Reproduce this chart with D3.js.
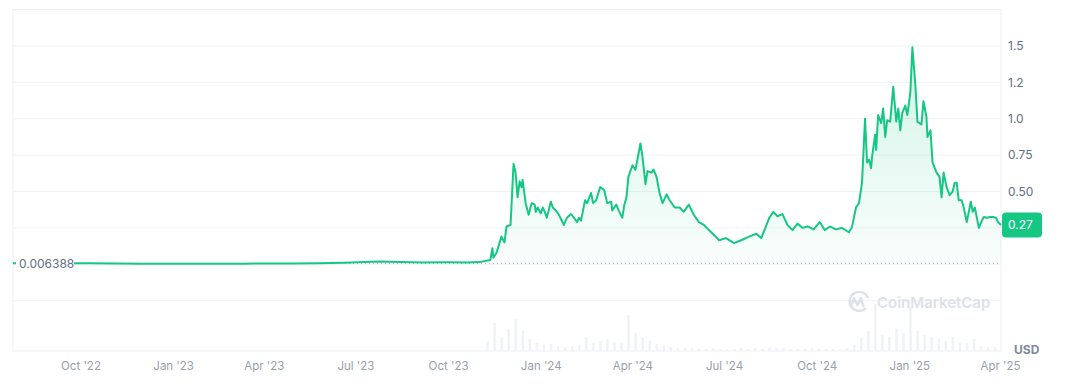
<!DOCTYPE html>
<html>
<head>
<meta charset="utf-8">
<script src="https://cdn.jsdelivr.net/npm/d3@7"></script>
<style>
  html, body { margin: 0; padding: 0; background: #fff; }
  svg { display: block; font-family: Inter, "Noto Sans", sans-serif; }
</style>
</head>
<body>
<svg id="chart" width="1066" height="387"></svg>
<script>
// price points (date, USD)
const prices2022_23 = [
  ['2022-07-26', 0.0064], ['2022-08-20', 0.0066], ['2022-09-15', 0.0068], ['2022-10-10', 0.0065],
  ['2022-11-05', 0.0058], ['2022-12-01', 0.0045], ['2022-12-25', 0.0035], ['2023-01-20', 0.003],
  ['2023-02-15', 0.0038], ['2023-03-12', 0.0045], ['2023-04-05', 0.0055], ['2023-05-01', 0.0062],
  ['2023-05-25', 0.0078], ['2023-06-20', 0.011], ['2023-07-10', 0.015], ['2023-07-25', 0.019],
  ['2023-08-15', 0.016], ['2023-09-05', 0.013], ['2023-09-30', 0.014], ['2023-10-20', 0.012],
  ['2023-11-01', 0.015], ['2023-11-12', 0.03], ['2023-11-14', 0.11], ['2023-11-15', 0.045],
  ['2023-11-18', 0.078], ['2023-11-23', 0.19], ['2023-11-26', 0.15], ['2023-11-28', 0.26],
  ['2023-12-02', 0.27], ['2023-12-05', 0.69], ['2023-12-07', 0.63], ['2023-12-09', 0.46],
  ['2023-12-11', 0.57], ['2023-12-13', 0.53], ['2023-12-14', 0.58], ['2023-12-17', 0.42],
  ['2023-12-20', 0.34], ['2023-12-23', 0.42], ['2023-12-26', 0.41], ['2023-12-27', 0.36],
  ['2023-12-29', 0.39]
];

const prices2024 = [
  ['2024-01-01', 0.35], ['2024-01-03', 0.39], ['2024-01-05', 0.36], ['2024-01-07', 0.32],
  ['2024-01-11', 0.43], ['2024-01-13', 0.39], ['2024-01-16', 0.37], ['2024-01-19', 0.34],
  ['2024-01-24', 0.27], ['2024-01-27', 0.32], ['2024-01-31', 0.345], ['2024-02-03', 0.32],
  ['2024-02-06', 0.29], ['2024-02-08', 0.32], ['2024-02-10', 0.30], ['2024-02-14', 0.44],
  ['2024-02-16', 0.42], ['2024-02-20', 0.49], ['2024-02-22', 0.42], ['2024-02-25', 0.44],
  ['2024-02-29', 0.53], ['2024-03-04', 0.51], ['2024-03-07', 0.42], ['2024-03-11', 0.43],
  ['2024-03-12', 0.37], ['2024-03-16', 0.41], ['2024-03-19', 0.36], ['2024-03-22', 0.32],
  ['2024-03-24', 0.41], ['2024-03-26', 0.455], ['2024-03-28', 0.60], ['2024-04-01', 0.68],
  ['2024-04-04', 0.65], ['2024-04-06', 0.72], ['2024-04-09', 0.83], ['2024-04-11', 0.74],
  ['2024-04-14', 0.55], ['2024-04-16', 0.64], ['2024-04-20', 0.63], ['2024-04-22', 0.65],
  ['2024-04-25', 0.60], ['2024-04-28', 0.49], ['2024-05-01', 0.42], ['2024-05-05', 0.48],
  ['2024-05-08', 0.44], ['2024-05-13', 0.39], ['2024-05-18', 0.39], ['2024-05-22', 0.36],
  ['2024-05-27', 0.41], ['2024-06-01', 0.34], ['2024-06-06', 0.29], ['2024-06-11', 0.27],
  ['2024-06-16', 0.235], ['2024-06-22', 0.195], ['2024-06-26', 0.165], ['2024-07-03', 0.18],
  ['2024-07-11', 0.145], ['2024-07-18', 0.165], ['2024-07-26', 0.19], ['2024-08-02', 0.21],
  ['2024-08-07', 0.18], ['2024-08-11', 0.25], ['2024-08-15', 0.32], ['2024-08-19', 0.36],
  ['2024-08-23', 0.33], ['2024-08-28', 0.345], ['2024-09-02', 0.27], ['2024-09-07', 0.235],
  ['2024-09-12', 0.28], ['2024-09-17', 0.25], ['2024-09-22', 0.26], ['2024-09-28', 0.24],
  ['2024-10-04', 0.29], ['2024-10-09', 0.235], ['2024-10-14', 0.26], ['2024-10-20', 0.24],
  ['2024-10-26', 0.25], ['2024-11-02', 0.22], ['2024-11-05', 0.255], ['2024-11-09', 0.39],
  ['2024-11-12', 0.42], ['2024-11-15', 0.56], ['2024-11-18', 1.00], ['2024-11-20', 0.70],
  ['2024-11-22', 0.72], ['2024-11-24', 0.66], ['2024-11-25', 0.74], ['2024-11-28', 0.89],
  ['2024-11-29', 0.785], ['2024-12-01', 1.025], ['2024-12-04', 0.97], ['2024-12-06', 1.07],
  ['2024-12-08', 0.875], ['2024-12-10', 0.99], ['2024-12-13', 0.98], ['2024-12-16', 1.22],
  ['2024-12-19', 0.98], ['2024-12-21', 1.07], ['2024-12-23', 0.92], ['2024-12-25', 1.04],
  ['2024-12-28', 1.09], ['2024-12-30', 1.025]
];

const prices2025 = [
  ['2025-01-02', 1.18], ['2025-01-04', 1.49], ['2025-01-07', 1.23], ['2025-01-09', 0.98],
  ['2025-01-13', 0.96], ['2025-01-15', 1.12], ['2025-01-18', 1.01], ['2025-01-19', 0.875],
  ['2025-01-22', 0.92], ['2025-01-24', 0.70], ['2025-01-28', 0.63], ['2025-01-31', 0.60],
  ['2025-02-02', 0.46], ['2025-02-04', 0.63], ['2025-02-07', 0.53], ['2025-02-10', 0.475],
  ['2025-02-13', 0.50], ['2025-02-15', 0.56], ['2025-02-17', 0.56], ['2025-02-19', 0.44],
  ['2025-02-22', 0.44], ['2025-02-24', 0.39], ['2025-02-27', 0.29], ['2025-03-03', 0.43],
  ['2025-03-05', 0.36], ['2025-03-07', 0.39], ['2025-03-11', 0.25], ['2025-03-14', 0.30],
  ['2025-03-16', 0.325], ['2025-03-19', 0.32], ['2025-03-22', 0.325], ['2025-03-25', 0.325],
  ['2025-03-28', 0.32], ['2025-03-30', 0.29], ['2025-04-02', 0.27]
];

// weekly volume (USD millions), weeks starting 2023-11-06
const volumeStart = '2023-11-06';
const weeklyVolume = [
  100, 280, 140, 220, 320, 200, 120, 80, 60, 70, 50, 40, 50, 60, 140, 80, 100, 120, 90, 80,
  360, 180, 140, 100, 70, 50, 40, 30, 30, 30, 20, 20, 30, 20, 20, 20, 30, 20, 30, 20,
  40, 30, 30, 20, 20, 20, 30, 20, 20, 20, 20, 30, 60, 140, 200, 470, 160, 140, 220, 180,
  440, 200, 160, 140, 120, 100, 140, 90, 80, 120, 50, 40, 40
];

const startPrice = 0.006388;
const lastPriceLabel = '0.27';
const yTickValues = [0.5, 0.75, 1.0, 1.25, 1.5];
const yTickLabels = ['0.50', '0.75', '1.0', '1.2', '1.5'];
const gridValues = [-0.25, 0, 0.25, 0.5, 0.75, 1.0, 1.25, 1.5];
const xTickDates = ['2022-10-01', '2023-01-01', '2023-04-01', '2023-07-01', '2023-10-01',
  '2024-01-01', '2024-04-01', '2024-07-01', '2024-10-01', '2025-01-01', '2025-04-01'];

const parse = d3.utcParse('%Y-%m-%d');
const prices = prices2022_23.concat(prices2024, prices2025)
  .map(([d, v]) => ({ date: parse(d), value: v }));
const volume = weeklyVolume.map((v, i) => ({ date: d3.utcWeek.offset(parse(volumeStart), i), value: v }));

const plotLeft = 13, plotRight = 1001, plotTop = 9.5, plotBottom = 351;

const x = d3.scaleUtc()
  .domain([prices[0].date, prices[prices.length - 1].date])
  .range([plotLeft, plotRight]);
const y = d3.scaleLinear().domain([0, 1.75]).range([264.3, plotTop]);
const yVol = d3.scaleLinear().domain([0, 470]).range([plotBottom, plotBottom - 47]);

const svg = d3.select('#chart');

// frame + grid
svg.append('g')
  .selectAll('line')
  .data(gridValues)
  .join('line')
  .attr('x1', plotLeft).attr('x2', plotRight)
  .attr('y1', d => y(d)).attr('y2', d => y(d))
  .attr('stroke', '#eff2f5');

svg.append('rect')
  .attr('x', plotLeft).attr('y', plotTop)
  .attr('width', plotRight - plotLeft).attr('height', plotBottom - plotTop)
  .attr('fill', 'none')
  .attr('stroke', '#eceff3');

// volume
svg.append('g')
  .selectAll('rect')
  .data(volume)
  .join('rect')
  .attr('x', d => x(d.date) + 2)
  .attr('width', 2.5)
  .attr('y', d => yVol(d.value))
  .attr('height', d => plotBottom - yVol(d.value))
  .attr('fill', '#f0f2f6');

// watermark
const wm = svg.append('g').attr('fill', 'none').attr('stroke', '#dde1e8').attr('stroke-width', 2.4);
wm.append('path')
  .attr('d', 'M 866 308 A 9.5 9.5 0 1 1 868 298');
wm.append('path')
  .attr('d', 'M 851 306 L 854 298 L 857.5 305 L 861 298 L 863.5 306')
  .attr('stroke-linejoin', 'round').attr('stroke-linecap', 'round');
svg.append('text')
  .attr('x', 877).attr('y', 307.5)
  .attr('font-size', 15).attr('font-weight', 600)
  .attr('fill', '#dde1e8')
  .text('CoinMarketCap');

// area + line
const grad = svg.append('defs').append('linearGradient')
  .attr('id', 'fillGrad').attr('x1', 0).attr('x2', 0).attr('y1', 0).attr('y2', 1);
grad.append('stop').attr('offset', '0%').attr('stop-color', '#16c784').attr('stop-opacity', 0.2);
grad.append('stop').attr('offset', '100%').attr('stop-color', '#16c784').attr('stop-opacity', 0.02);

const area = d3.area()
  .x(d => x(d.date))
  .y0(y(startPrice))
  .y1(d => y(d.value));

svg.append('path')
  .datum(prices)
  .attr('d', area)
  .attr('fill', 'url(#fillGrad)');

svg.append('line')
  .attr('x1', plotLeft).attr('x2', plotRight)
  .attr('y1', y(startPrice)).attr('y2', y(startPrice))
  .attr('stroke', '#a6b0c3')
  .attr('stroke-dasharray', '1,3');

svg.append('path')
  .datum(prices)
  .attr('d', d3.line().x(d => x(d.date)).y(d => y(d.value)))
  .attr('fill', 'none')
  .attr('stroke', '#16c784')
  .attr('stroke-width', 2)
  .attr('stroke-linejoin', 'round');

// start price label
svg.append('rect')
  .attr('x', 16).attr('y', y(startPrice) - 8)
  .attr('width', 58).attr('height', 16)
  .attr('fill', '#fff');
svg.append('text')
  .attr('x', 19).attr('y', y(startPrice))
  .attr('dy', '0.35em')
  .attr('font-size', 12)
  .attr('fill', '#616e85')
  .text(d3.format('.6f')(startPrice));

// y axis
const yAxis = d3.axisRight(y)
  .tickValues(yTickValues)
  .tickFormat((d, i) => yTickLabels[i])
  .tickSize(0)
  .tickPadding(7);
svg.append('g')
  .attr('transform', `translate(${plotRight},0)`)
  .call(yAxis)
  .call(g => g.select('.domain').remove())
  .call(g => g.selectAll('text')
    .attr('font-family', 'Inter, "Noto Sans", sans-serif')
    .attr('font-size', 12)
    .attr('fill', '#616e85'));

// x axis
const xAxis = d3.axisBottom(x)
  .tickValues(xTickDates.map(parse))
  .tickFormat(d3.utcFormat("%b '%y"))
  .tickSize(0)
  .tickPadding(0);
svg.append('g')
  .attr('transform', 'translate(0,362)')
  .call(xAxis)
  .call(g => g.select('.domain').remove())
  .call(g => g.selectAll('text')
    .attr('font-family', 'Inter, "Noto Sans", sans-serif')
    .attr('font-size', 11.5)
    .attr('fill', '#98a0ae'));

// last price tag
const last = prices[prices.length - 1];
svg.append('rect')
  .attr('x', plotRight + 1).attr('y', y(last.value) - 12.5)
  .attr('width', 40).attr('height', 25).attr('rx', 4)
  .attr('fill', '#16c784');
svg.append('text')
  .attr('x', plotRight + 7).attr('y', y(last.value))
  .attr('dy', '0.35em')
  .attr('font-size', 12).attr('fill', '#fff')
  .text(lastPriceLabel);

svg.append('text')
  .attr('x', 1014).attr('y', 354)
  .attr('font-size', 12).attr('font-weight', 700)
  .attr('fill', '#808a9d')
  .text('USD');
</script>
</body>
</html>
